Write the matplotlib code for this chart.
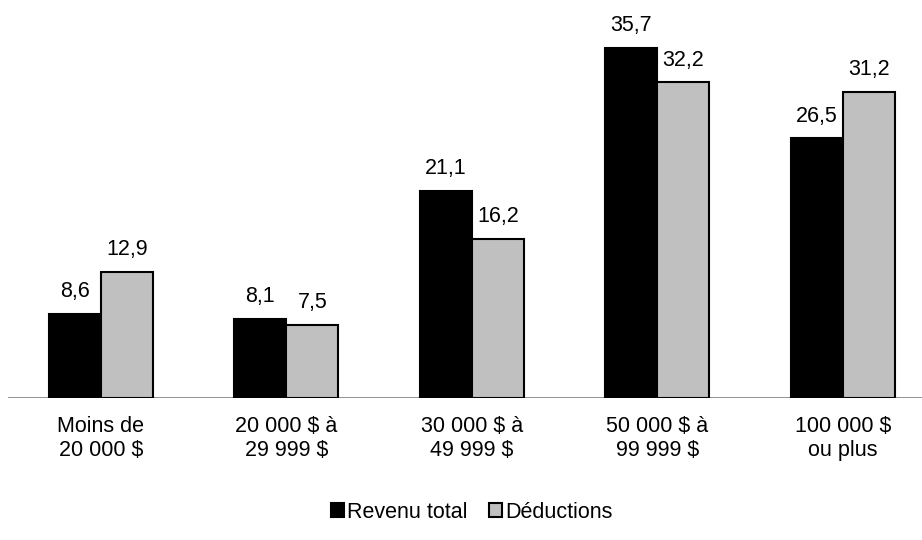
import numpy as np
import matplotlib.pyplot as plt

plt.rcParams['font.family'] = ['Liberation Sans', 'DejaVu Sans']

categories = ['Moins de\n20 000 $', '20 000 $ à\n29 999 $', '30 000 $ à\n49 999 $',
              '50 000 $ à\n99 999 $', '100 000 $\nou plus']
revenu = [8.6, 8.1, 21.1, 35.7, 26.5]
deductions = [12.9, 7.5, 16.2, 32.2, 31.2]

fig = plt.figure(figsize=(9.22, 5.4), dpi=100)
# axes in pixel terms: left 8, right 922, baseline y=398, top y=6
ax = fig.add_axes([8/922, (540-398)/540, (922-8)/922, (398-6)/540])

x = np.arange(len(categories))
w = 0.28
b1 = ax.bar(x - w/2, revenu, w, color='black', edgecolor='black', linewidth=1.5, label='Revenu total')
b2 = ax.bar(x + w/2, deductions, w, color='#C0C0C0', edgecolor='black', linewidth=1.5, label='Déductions')

for rects, vals in [(b1, revenu), (b2, deductions)]:
    for r, v in zip(rects, vals):
        ax.text(r.get_x() + r.get_width()/2, v + 1.2, f'{v:.1f}'.replace('.', ','),
                ha='center', va='bottom', fontsize=15.5)

ax.set_xlim(-0.5, (922 - 101) / 185.5)
ax.set_ylim(0, 40)
ax.axhline(0, color='#808080', linewidth=1.2, zorder=0)
for s in ax.spines.values():
    s.set_visible(False)
ax.set_yticks([])
ax.set_xticks(x)
ax.set_xticklabels(categories, fontsize=15.5, linespacing=1.2)
ax.tick_params(axis='x', length=0, pad=13)

fig.legend(loc='center', bbox_to_anchor=(472/922, 1 - 512/540), ncol=2, frameon=False,
           fontsize=15.5, handlelength=0.6, handleheight=0.6, handletextpad=0.15, columnspacing=1.0)

fig.savefig('out.png', dpi=100)
